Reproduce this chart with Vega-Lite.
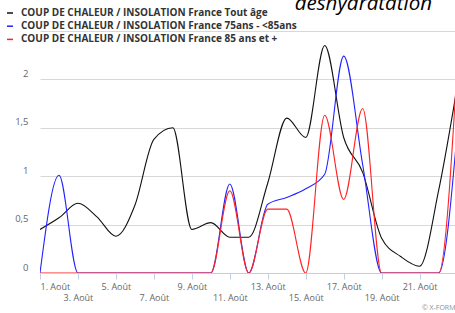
{
  "$schema": "https://vega.github.io/schema/vega-lite/v6.json",
  "autosize": {"type": "none"},
  "padding": {"left": 40, "top": 31, "right": 0, "bottom": 40},
  "width": 415,
  "height": 242,
  "title": {"text": "déshydratation", "anchor": "end", "frame": "group", "offset": -22, "dx": -23, "baseline": "alphabetic", "font": "Open Sans", "fontSize": 20.5, "fontStyle": "italic", "fontWeight": "normal", "color": "#000000"},
  "config": {"view": {"stroke": null}, "font": "Open Sans"},
  "data": {"values": [
    {"date": "2013-08-01T00:00", "serie": "COUP DE CHALEUR / INSOLATION France Tout âge", "v": 0.45},
    {"date": "2013-08-02T00:00", "serie": "COUP DE CHALEUR / INSOLATION France Tout âge", "v": 0.57},
    {"date": "2013-08-03T00:00", "serie": "COUP DE CHALEUR / INSOLATION France Tout âge", "v": 0.72},
    {"date": "2013-08-04T00:00", "serie": "COUP DE CHALEUR / INSOLATION France Tout âge", "v": 0.58},
    {"date": "2013-08-05T00:00", "serie": "COUP DE CHALEUR / INSOLATION France Tout âge", "v": 0.38},
    {"date": "2013-08-06T00:00", "serie": "COUP DE CHALEUR / INSOLATION France Tout âge", "v": 0.70},
    {"date": "2013-08-07T00:00", "serie": "COUP DE CHALEUR / INSOLATION France Tout âge", "v": 1.38},
    {"date": "2013-08-08T00:00", "serie": "COUP DE CHALEUR / INSOLATION France Tout âge", "v": 1.50},
    {"date": "2013-08-09T00:00", "serie": "COUP DE CHALEUR / INSOLATION France Tout âge", "v": 0.45},
    {"date": "2013-08-10T00:00", "serie": "COUP DE CHALEUR / INSOLATION France Tout âge", "v": 0.52},
    {"date": "2013-08-11T00:00", "serie": "COUP DE CHALEUR / INSOLATION France Tout âge", "v": 0.37},
    {"date": "2013-08-12T00:00", "serie": "COUP DE CHALEUR / INSOLATION France Tout âge", "v": 0.37},
    {"date": "2013-08-13T00:00", "serie": "COUP DE CHALEUR / INSOLATION France Tout âge", "v": 0.93},
    {"date": "2013-08-14T00:00", "serie": "COUP DE CHALEUR / INSOLATION France Tout âge", "v": 1.60},
    {"date": "2013-08-15T00:00", "serie": "COUP DE CHALEUR / INSOLATION France Tout âge", "v": 1.40},
    {"date": "2013-08-16T00:00", "serie": "COUP DE CHALEUR / INSOLATION France Tout âge", "v": 2.35},
    {"date": "2013-08-17T00:00", "serie": "COUP DE CHALEUR / INSOLATION France Tout âge", "v": 1.40},
    {"date": "2013-08-18T00:00", "serie": "COUP DE CHALEUR / INSOLATION France Tout âge", "v": 1.04},
    {"date": "2013-08-19T00:00", "serie": "COUP DE CHALEUR / INSOLATION France Tout âge", "v": 0.36},
    {"date": "2013-08-20T00:00", "serie": "COUP DE CHALEUR / INSOLATION France Tout âge", "v": 0.17},
    {"date": "2013-08-21T00:00", "serie": "COUP DE CHALEUR / INSOLATION France Tout âge", "v": 0.07},
    {"date": "2013-08-22T00:00", "serie": "COUP DE CHALEUR / INSOLATION France Tout âge", "v": 0.85},
    {"date": "2013-08-23T00:00", "serie": "COUP DE CHALEUR / INSOLATION France Tout âge", "v": 1.95},
    {"date": "2013-08-01T00:00", "serie": "COUP DE CHALEUR / INSOLATION France 75ans - <85ans", "v": 0},
    {"date": "2013-08-02T00:00", "serie": "COUP DE CHALEUR / INSOLATION France 75ans - <85ans", "v": 1.01},
    {"date": "2013-08-03T00:00", "serie": "COUP DE CHALEUR / INSOLATION France 75ans - <85ans", "v": 0},
    {"date": "2013-08-04T00:00", "serie": "COUP DE CHALEUR / INSOLATION France 75ans - <85ans", "v": 0},
    {"date": "2013-08-05T00:00", "serie": "COUP DE CHALEUR / INSOLATION France 75ans - <85ans", "v": 0},
    {"date": "2013-08-06T00:00", "serie": "COUP DE CHALEUR / INSOLATION France 75ans - <85ans", "v": 0},
    {"date": "2013-08-07T00:00", "serie": "COUP DE CHALEUR / INSOLATION France 75ans - <85ans", "v": 0},
    {"date": "2013-08-08T00:00", "serie": "COUP DE CHALEUR / INSOLATION France 75ans - <85ans", "v": 0},
    {"date": "2013-08-09T00:00", "serie": "COUP DE CHALEUR / INSOLATION France 75ans - <85ans", "v": 0},
    {"date": "2013-08-10T00:00", "serie": "COUP DE CHALEUR / INSOLATION France 75ans - <85ans", "v": 0},
    {"date": "2013-08-11T00:00", "serie": "COUP DE CHALEUR / INSOLATION France 75ans - <85ans", "v": 0.92},
    {"date": "2013-08-12T00:00", "serie": "COUP DE CHALEUR / INSOLATION France 75ans - <85ans", "v": 0},
    {"date": "2013-08-13T00:00", "serie": "COUP DE CHALEUR / INSOLATION France 75ans - <85ans", "v": 0.71},
    {"date": "2013-08-14T00:00", "serie": "COUP DE CHALEUR / INSOLATION France 75ans - <85ans", "v": 0.78},
    {"date": "2013-08-15T00:00", "serie": "COUP DE CHALEUR / INSOLATION France 75ans - <85ans", "v": 0.87},
    {"date": "2013-08-16T00:00", "serie": "COUP DE CHALEUR / INSOLATION France 75ans - <85ans", "v": 1.02},
    {"date": "2013-08-17T00:00", "serie": "COUP DE CHALEUR / INSOLATION France 75ans - <85ans", "v": 2.24},
    {"date": "2013-08-18T00:00", "serie": "COUP DE CHALEUR / INSOLATION France 75ans - <85ans", "v": 1.12},
    {"date": "2013-08-19T00:00", "serie": "COUP DE CHALEUR / INSOLATION France 75ans - <85ans", "v": 0},
    {"date": "2013-08-20T00:00", "serie": "COUP DE CHALEUR / INSOLATION France 75ans - <85ans", "v": 0},
    {"date": "2013-08-21T00:00", "serie": "COUP DE CHALEUR / INSOLATION France 75ans - <85ans", "v": 0},
    {"date": "2013-08-22T00:00", "serie": "COUP DE CHALEUR / INSOLATION France 75ans - <85ans", "v": 0},
    {"date": "2013-08-23T00:00", "serie": "COUP DE CHALEUR / INSOLATION France 75ans - <85ans", "v": 1.5},
    {"date": "2013-08-01T00:00", "serie": "COUP DE CHALEUR / INSOLATION France 85 ans et +", "v": 0},
    {"date": "2013-08-02T00:00", "serie": "COUP DE CHALEUR / INSOLATION France 85 ans et +", "v": 0},
    {"date": "2013-08-03T00:00", "serie": "COUP DE CHALEUR / INSOLATION France 85 ans et +", "v": 0},
    {"date": "2013-08-04T00:00", "serie": "COUP DE CHALEUR / INSOLATION France 85 ans et +", "v": 0},
    {"date": "2013-08-05T00:00", "serie": "COUP DE CHALEUR / INSOLATION France 85 ans et +", "v": 0},
    {"date": "2013-08-06T00:00", "serie": "COUP DE CHALEUR / INSOLATION France 85 ans et +", "v": 0},
    {"date": "2013-08-07T00:00", "serie": "COUP DE CHALEUR / INSOLATION France 85 ans et +", "v": 0},
    {"date": "2013-08-08T00:00", "serie": "COUP DE CHALEUR / INSOLATION France 85 ans et +", "v": 0},
    {"date": "2013-08-09T00:00", "serie": "COUP DE CHALEUR / INSOLATION France 85 ans et +", "v": 0},
    {"date": "2013-08-10T00:00", "serie": "COUP DE CHALEUR / INSOLATION France 85 ans et +", "v": 0},
    {"date": "2013-08-11T00:00", "serie": "COUP DE CHALEUR / INSOLATION France 85 ans et +", "v": 0.85},
    {"date": "2013-08-12T00:00", "serie": "COUP DE CHALEUR / INSOLATION France 85 ans et +", "v": 0},
    {"date": "2013-08-13T00:00", "serie": "COUP DE CHALEUR / INSOLATION France 85 ans et +", "v": 0.66},
    {"date": "2013-08-14T00:00", "serie": "COUP DE CHALEUR / INSOLATION France 85 ans et +", "v": 0.66},
    {"date": "2013-08-15T00:00", "serie": "COUP DE CHALEUR / INSOLATION France 85 ans et +", "v": 0},
    {"date": "2013-08-16T00:00", "serie": "COUP DE CHALEUR / INSOLATION France 85 ans et +", "v": 1.63},
    {"date": "2013-08-17T00:00", "serie": "COUP DE CHALEUR / INSOLATION France 85 ans et +", "v": 0.76},
    {"date": "2013-08-18T00:00", "serie": "COUP DE CHALEUR / INSOLATION France 85 ans et +", "v": 1.70},
    {"date": "2013-08-19T00:00", "serie": "COUP DE CHALEUR / INSOLATION France 85 ans et +", "v": 0},
    {"date": "2013-08-20T00:00", "serie": "COUP DE CHALEUR / INSOLATION France 85 ans et +", "v": 0},
    {"date": "2013-08-21T00:00", "serie": "COUP DE CHALEUR / INSOLATION France 85 ans et +", "v": 0},
    {"date": "2013-08-22T00:00", "serie": "COUP DE CHALEUR / INSOLATION France 85 ans et +", "v": 0},
    {"date": "2013-08-23T00:00", "serie": "COUP DE CHALEUR / INSOLATION France 85 ans et +", "v": 2.2}
  ]},
  "mark": {"type": "line", "interpolate": "monotone", "clip": true, "strokeWidth": 1.1},
  "encoding": {
    "x": {
      "field": "date", "type": "temporal",
      "scale": {"domain": [{"year": 2013, "month": 8, "date": 1}, {"year": 2013, "month": 8, "date": 22, "hours": 20, "minutes": 45}]},
      "axis": {
        "values": [
          {"year": 2013, "month": 8, "date": 1}, {"year": 2013, "month": 8, "date": 3}, {"year": 2013, "month": 8, "date": 5},
          {"year": 2013, "month": 8, "date": 7}, {"year": 2013, "month": 8, "date": 9}, {"year": 2013, "month": 8, "date": 11},
          {"year": 2013, "month": 8, "date": 13}, {"year": 2013, "month": 8, "date": 15}, {"year": 2013, "month": 8, "date": 17},
          {"year": 2013, "month": 8, "date": 19}, {"year": 2013, "month": 8, "date": 21}
        ],
        "labelExpr": "date(datum.value) + '. Août'",
        "labelFlush": true,
        "labelOverlap": false,
        "labelFont": "Open Sans",
        "labelFontSize": 9,
        "labelColor": "#666666",
        "labelPadding": {"condition": {"test": "date(datum.value) % 4 == 3", "value": 14}, "value": 3},
        "grid": false,
        "domainColor": "#C0D0E0",
        "tickColor": "#C0D0E0",
        "tickSize": 6,
        "title": "© X-FORM",
        "titleFont": "Open Sans",
        "titleFontSize": 7,
        "titleFontWeight": "normal",
        "titleColor": "#909090",
        "titleAnchor": "end",
        "titlePadding": 1
      }
    },
    "y": {
      "field": "v", "type": "quantitative",
      "scale": {"domain": [0, 2.5]},
      "axis": {
        "values": [0, 0.5, 1, 1.5, 2, 2.5],
        "labelExpr": "datum.value == 2.5 ? '' : replace(format(datum.value, '~g'), '.', ',')",
        "labelFont": "Open Sans",
        "labelFontSize": 9.5,
        "labelColor": "#666666",
        "labelBaseline": "alphabetic",
        "labelOffset": -3,
        "labelPadding": 12,
        "domain": false,
        "ticks": false,
        "grid": true,
        "gridColor": "#D8D8D8",
        "gridWidth": 1,
        "title": null
      }
    },
    "color": {
      "field": "serie", "type": "nominal",
      "scale": {
        "domain": ["COUP DE CHALEUR / INSOLATION France Tout âge", "COUP DE CHALEUR / INSOLATION France 75ans - <85ans", "COUP DE CHALEUR / INSOLATION France 85 ans et +"],
        "range": ["#111111", "#2222FF", "#FF2222"]
      },
      "legend": {
        "orient": "none",
        "legendX": -35,
        "legendY": -23,
        "title": null,
        "padding": 0,
        "offset": 0,
        "rowPadding": 3.2,
        "symbolType": "stroke",
        "symbolSize": 36,
        "symbolStrokeWidth": 1.5,
        "labelFont": "Open Sans",
        "labelFontSize": 10,
        "labelFontWeight": "bold",
        "labelColor": "#333333",
        "labelOffset": 6,
        "labelLimit": 0
      }
    }
  }
}
